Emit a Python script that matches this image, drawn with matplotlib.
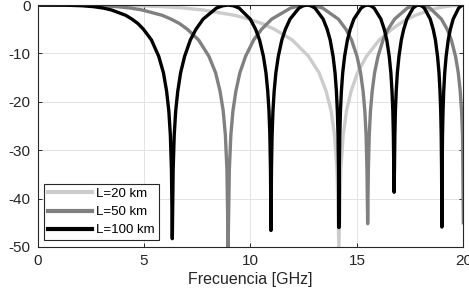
import matplotlib
matplotlib.use("Agg")
import matplotlib.pyplot as plt

plt.rcParams['font.family'] = ['Liberation Sans', 'DejaVu Sans']
plt.rcParams['axes.unicode_minus'] = False

# datos: frecuencia [GHz] y respuesta [dB]
f_20 = [0, 3.002, 4.671, 5.870, 6.876, 7.752, 9.249, 9.918, 10.535, 11.127, 11.960, 12.730, 13.224,
        13.555, 13.789, 13.950, 14.064, 14.154,
        14.244, 14.355, 14.510, 14.728, 15.026, 15.447, 16.051, 16.639, 17.020, 17.387, 17.752,
        18.455, 18.799, 19.137, 19.464, 20.0]
h_20 = [0, -0.02, -0.13, -0.32, -0.6, -1.0, -2.1, -2.9, -3.8, -5.0, -7.2, -10.6, -14.0,
        -17.8, -21.9, -26.9, -34.0, -50.0,
        -34.0, -26.9, -21.9, -17.8, -14.0, -10.6, -7.2, -5.0, -3.8, -2.9, -2.1,
        -1.0, -0.6, -0.32, -0.13, 0]

f_50 = [0, 1.899, 2.955, 3.712, 4.349, 4.903, 5.850, 6.273, 6.663, 7.037, 7.564, 8.051, 8.364,
        8.573, 8.721, 8.823, 8.895, 8.952,
        9.009, 9.079, 9.177, 9.315, 9.503, 9.770, 10.152, 10.524, 10.997, 11.890, 12.310, 12.660,
        13.001, 13.386, 14.129, 14.485, 14.748, 15.004, 15.173, 15.290, 15.373, 15.431, 15.472, 15.505,
        15.538, 15.579, 15.636, 15.718, 15.830, 15.991, 16.228, 16.463, 16.769, 17.368, 17.658, 17.904,
        18.146, 18.425, 18.971, 19.237, 19.436, 19.631, 19.761, 19.851, 19.915, 19.960, 20.0]
h_50 = [0, -0.02, -0.13, -0.32, -0.6, -1.0, -2.1, -2.9, -3.8, -5.0, -7.2, -10.6, -14.0,
        -17.8, -21.9, -26.9, -34.0, -50.0,
        -34.0, -26.9, -21.9, -17.8, -14.0, -10.6, -7.2, -5.0, -2.9, -0.6, -0.13, 0,
        -0.13, -0.6, -2.9, -5.0, -7.2, -10.6, -14.0, -17.8, -21.9, -26.9, -34.0, -45.2,
        -34.0, -26.9, -21.9, -17.8, -14.0, -10.6, -7.2, -5.0, -2.9, -0.6, -0.13, 0,
        -0.13, -0.6, -2.9, -5.0, -7.2, -10.6, -14.0, -17.8, -21.9, -26.9, -45.0]

f_100 = [0, 1.343, 2.09, 2.625, 3.075, 3.467, 4.137, 4.435, 4.711, 4.976, 5.349, 5.693, 5.914,
         6.062, 6.167, 6.239, 6.290, 6.33,
         6.370, 6.420, 6.489, 6.587, 6.720, 6.908, 7.178, 7.441, 7.776, 8.407, 8.705, 8.952,
         9.193, 9.465, 9.991, 10.242, 10.428, 10.609, 10.729, 10.812, 10.871, 10.912, 10.941, 10.964,
         10.987, 11.016, 11.057, 11.114, 11.194, 11.308, 11.475, 11.641, 11.858, 12.281, 12.486, 12.66,
         12.831, 13.028, 13.415, 13.603, 13.744, 13.881, 13.973, 14.037, 14.082, 14.114, 14.136, 14.154,
         14.172, 14.195, 14.226, 14.271, 14.333, 14.422, 14.554, 14.685, 14.857, 15.197, 15.364, 15.505,
         15.645, 15.807, 16.127, 16.284, 16.402, 16.518, 16.595, 16.648, 16.687, 16.713, 16.732, 16.748,
         16.763, 16.782, 16.808, 16.846, 16.899, 16.975, 17.086, 17.199, 17.346, 17.638, 17.782, 17.904,
         18.026, 18.166, 18.445, 18.583, 18.686, 18.787, 18.856, 18.902, 18.936, 18.960, 18.977, 18.99,
         19.003, 19.020, 19.044, 19.077, 19.124, 19.190, 19.289, 19.389, 19.520, 19.780, 19.908, 20.0]
h_100 = [0, -0.02, -0.13, -0.32, -0.6, -1.0, -2.1, -2.9, -3.8, -5.0, -7.2, -10.6, -14.0,
         -17.8, -21.9, -26.9, -34.0, -48.3,
         -34.0, -26.9, -21.9, -17.8, -14.0, -10.6, -7.2, -5.0, -2.9, -0.6, -0.13, 0,
         -0.13, -0.6, -2.9, -5.0, -7.2, -10.6, -14.0, -17.8, -21.9, -26.9, -34.0, -46.6,
         -34.0, -26.9, -21.9, -17.8, -14.0, -10.6, -7.2, -5.0, -2.9, -0.6, -0.13, 0,
         -0.13, -0.6, -2.9, -5.0, -7.2, -10.6, -14.0, -17.8, -21.9, -26.9, -34.0, -46.0,
         -34.0, -26.9, -21.9, -17.8, -14.0, -10.6, -7.2, -5.0, -2.9, -0.6, -0.13, 0,
         -0.13, -0.6, -2.9, -5.0, -7.2, -10.6, -14.0, -17.8, -21.9, -26.9, -34.0, -38.7,
         -34.0, -26.9, -21.9, -17.8, -14.0, -10.6, -7.2, -5.0, -2.9, -0.6, -0.13, 0,
         -0.13, -0.6, -2.9, -5.0, -7.2, -10.6, -14.0, -17.8, -21.9, -26.9, -34.0, -45.9,
         -34.0, -26.9, -21.9, -17.8, -14.0, -10.6, -7.2, -5.0, -2.9, -0.6, -0.13, 0]

etiquetas = ["L=20 km", "L=50 km", "L=100 km"]
colores = ["#cccccc", "#808080", "#000000"]

fig = plt.figure(figsize=(4.69, 3.0), dpi=100)
ax = fig.add_axes([0.080, 0.177, 0.908, 0.806])

for f, h, lab, col in zip([f_20, f_50, f_100], [h_20, h_50, h_100], etiquetas, colores):
    ax.plot(f, h, color=col, linewidth=2.4, label=lab)

ax.set_xlim(0, 20)
ax.set_ylim(-50, 0)
ax.set_xticks([0, 5, 10, 15, 20])
ax.set_yticks([-50, -40, -30, -20, -10, 0])
ax.grid(True, color="#e3e3e3", linewidth=0.7)
ax.set_axisbelow(True)
ax.tick_params(direction="in", length=3, colors="#262626", labelsize=11, width=0.7,
               top=True, right=True, pad=5)
for s in ax.spines.values():
    s.set_color("#262626")
    s.set_linewidth(0.8)
ax.set_xlabel("Frecuencia [GHz]", fontsize=11.5, color="#262626", labelpad=3)

leg = ax.legend(loc="lower left", fontsize=9.5, handlelength=3.3, handletextpad=0.35,
                labelspacing=0.45, borderpad=0.3, borderaxespad=0.5, fancybox=False,
                framealpha=1, edgecolor="#262626")
leg.get_frame().set_linewidth(0.8)
for l in leg.get_lines():
    l.set_linewidth(3)

fig.savefig("out.png", dpi=100)
